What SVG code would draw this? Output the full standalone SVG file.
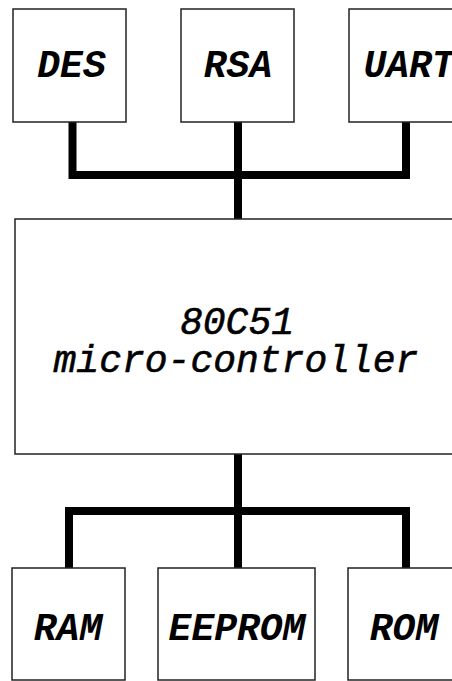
<svg xmlns="http://www.w3.org/2000/svg" width="452" height="681" viewBox="0 0 452 681">
<style>
.box{fill:#fff;stroke:#222;stroke-width:1.5}
.bus{fill:none;stroke:#000;stroke-width:8;stroke-linecap:butt;stroke-linejoin:miter}
.lbl{font-family:"Liberation Mono","Courier New",monospace;font-style:italic;font-weight:bold;font-size:38px;text-anchor:middle;fill:#000}
.main{font-family:"Liberation Mono","Courier New",monospace;font-style:italic;font-size:38px;text-anchor:middle;fill:#000;stroke:#000;stroke-width:0.6}
</style>
<rect width="452" height="681" fill="#fff"/>
<g id="connectors">
<path class="bus" d="M72.5,122 V175 H406 V122 M238,122 V219"/>
<path class="bus" d="M238,454 V511 M69,568 V511 H406 V568 M238,511 V568"/>
</g>
<g id="des"><rect class="box" x="13" y="9" width="113" height="113"/><text class="lbl" x="71.5" y="77">DES</text></g>
<g id="rsa"><rect class="box" x="181" y="9" width="113" height="113"/><text class="lbl" x="238" y="77">RSA</text></g>
<g id="uart"><rect class="box" x="349" y="9" width="113" height="113"/><text class="lbl" x="409" y="77">UART</text></g>
<g id="mcu"><rect class="box" x="15" y="219" width="450" height="235"/><text class="main" x="237" y="334">80C51</text><text class="main" x="236" y="372">micro-controller</text></g>
<g id="ram"><rect class="box" x="12" y="568" width="113" height="112"/><text class="lbl" x="68" y="640">RAM</text></g>
<g id="eeprom"><rect class="box" x="158" y="568" width="157" height="112"/><text class="lbl" x="237" y="640">EEPROM</text></g>
<g id="rom"><rect class="box" x="348" y="568" width="113" height="112"/><text class="lbl" x="404" y="640">ROM</text></g>
</svg>
